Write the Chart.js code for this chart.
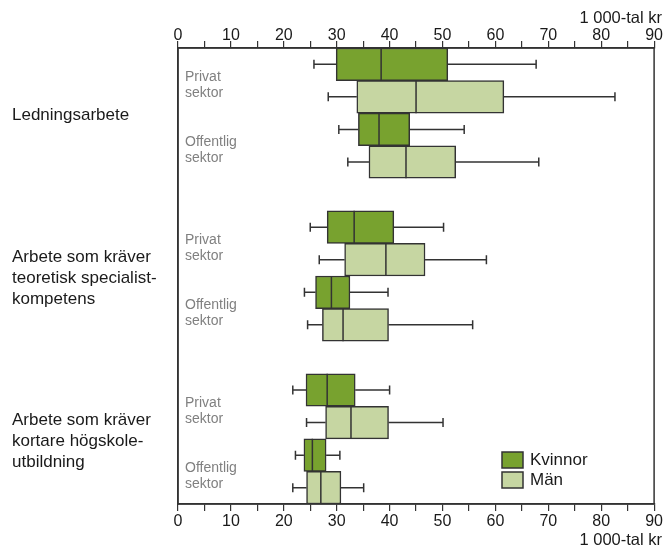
<!DOCTYPE html>
<html>
<head>
<meta charset="utf-8">
<script src="https://cdn.jsdelivr.net/npm/chart.js@4/dist/chart.umd.min.js"></script>
<style>
  html, body { margin: 0; padding: 0; background: #ffffff; }
  #wrap { width: 664px; height: 546px; position: relative; }
</style>
</head>
<body>
<div id="wrap"><canvas id="c" width="664" height="546"></canvas></div>
<script>
// ---- Data, values in 1 000-tal kr ----
const groups = [
  ['Ledningsarbete'],
  ['Arbete som kräver', 'teoretisk specialist-', 'kompetens'],
  ['Arbete som kräver', 'kortare högskole-', 'utbildning']
];
const sectors = [['Privat', 'sektor'], ['Offentlig', 'sektor']];
const seriesNames = ['Kvinnor', 'Män'];
const xTicks = [0, 10, 20, 30, 40, 50, 60, 70, 80, 90];
const unitLabel = '1 000-tal kr';

// order: Ledning-Privat, Ledning-Offentlig, Spec-Privat, Spec-Offentlig, Kort-Privat, Kort-Offentlig
const kvinnorMin    = [25.7, 30.4, 25.0, 23.9, 21.7, 22.2];
const kvinnorQ1     = [29.9, 34.1, 28.2, 26.0, 24.2, 23.8];
const kvinnorMedian = [38.4, 38.0, 33.3, 29.0, 28.2, 25.4];
const kvinnorQ3     = [51.0, 43.8, 40.8, 32.5, 33.5, 28.0];
const kvinnorMax    = [67.7, 54.1, 50.2, 39.7, 40.0, 30.6];

const manMin    = [28.4, 32.1, 26.7, 24.5, 24.3, 21.7];
const manQ1     = [33.8, 36.1, 31.5, 27.3, 27.9, 24.3];
const manMedian = [45.0, 43.1, 39.3, 31.2, 32.7, 27.0];
const manQ3     = [61.6, 52.5, 46.7, 39.8, 39.8, 30.8];
const manMax    = [82.6, 68.2, 58.3, 55.7, 50.1, 35.1];

// ---- Build row slots: per group 4 rows + 1 gap row ----
const rowLabels = [];
const kvData = [], mnData = [];
const kvStats = [], mnStats = [];
groups.forEach((g, gi) => {
  sectors.forEach((s, si) => {
    const k = gi * 2 + si;
    rowLabels.push(g.join(' ') + ' – ' + s.join(' ') + ' – ' + seriesNames[0]);
    kvData.push([kvinnorQ1[k], kvinnorQ3[k]]); mnData.push(null);
    kvStats.push({min: kvinnorMin[k], med: kvinnorMedian[k], max: kvinnorMax[k]}); mnStats.push(null);
    rowLabels.push(g.join(' ') + ' – ' + s.join(' ') + ' – ' + seriesNames[1]);
    kvData.push(null); mnData.push([manQ1[k], manQ3[k]]);
    kvStats.push(null); mnStats.push({min: manMin[k], med: manMedian[k], max: manMax[k]});
  });
  if (gi < groups.length - 1) {
    rowLabels.push('');
    kvData.push(null); mnData.push(null); kvStats.push(null); mnStats.push(null);
  }
});

const DARK = '#78a22f';
const LIGHT = '#c6d6a2';
const LINE = '#333333';
const FONT = "'Liberation Sans', Arial, Helvetica, sans-serif";

const boxPlugin = {
  id: 'boxExtras',
  afterDatasetsDraw(chart) {
    const ctx = chart.ctx;
    const xs = chart.scales.x;
    const statsList = [kvStats, mnStats];
    ctx.save();
    ctx.strokeStyle = LINE;
    ctx.lineWidth = 1.5;
    statsList.forEach((stats, di) => {
      const meta = chart.getDatasetMeta(di);
      meta.data.forEach((el, i) => {
        const st = stats[i];
        const d = chart.data.datasets[di].data[i];
        if (!st || !d) return;
        const props = el.getProps(['y', 'height'], true);
        const yc = props.y, h = props.height;
        const top = yc - h / 2, bot = yc + h / 2;
        const pMin = xs.getPixelForValue(st.min);
        const pQ1 = xs.getPixelForValue(d[0]);
        const pQ3 = xs.getPixelForValue(d[1]);
        const pMax = xs.getPixelForValue(st.max);
        const pMed = xs.getPixelForValue(st.med);
        const cap = 4.5;
        ctx.beginPath();
        ctx.moveTo(pMin, yc); ctx.lineTo(pQ1, yc);
        ctx.moveTo(pQ3, yc); ctx.lineTo(pMax, yc);
        ctx.moveTo(pMin, yc - cap); ctx.lineTo(pMin, yc + cap);
        ctx.moveTo(pMax, yc - cap); ctx.lineTo(pMax, yc + cap);
        ctx.moveTo(pMed, top); ctx.lineTo(pMed, bot);
        ctx.stroke();
      });
    });
    // plot frame
    const a = chart.chartArea;
    ctx.lineWidth = 1.5;
    ctx.strokeRect(a.left, a.top, a.right - a.left, a.bottom - a.top);

    // left group labels
    const ys = chart.scales.y;
    ctx.fillStyle = '#1a1a1a';
    ctx.font = '17px ' + FONT;
    ctx.textAlign = 'left';
    ctx.textBaseline = 'middle';
    const lh = 20.8;
    groups.forEach((g, gi) => {
      const c = (ys.getPixelForValue(gi * 5 + 1) + ys.getPixelForValue(gi * 5 + 2)) / 2;
      const y0 = c - (g.length - 1) * lh / 2 + 2.5;
      g.forEach((t, li) => ctx.fillText(t, 12, y0 + li * lh));
    });
    // sector labels inside the plot
    ctx.fillStyle = '#808080';
    ctx.font = '14px ' + FONT;
    groups.forEach((g, gi) => {
      sectors.forEach((s, si) => {
        const r = gi * 5 + si * 2;
        const c = (ys.getPixelForValue(r) + ys.getPixelForValue(r + 1)) / 2 + 4.5;
        ctx.fillText(s[0], a.left + 7, c - 8);
        ctx.fillText(s[1], a.left + 7, c + 8);
      });
    });
    // unit labels
    ctx.fillStyle = '#1a1a1a';
    ctx.font = '16.5px ' + FONT;
    ctx.textAlign = 'right';
    ctx.textBaseline = 'alphabetic';
    ctx.fillText(unitLabel, 662, 23);
    ctx.fillText(unitLabel, 662, 545);

    // legend
    ctx.textAlign = 'left';
    ctx.textBaseline = 'middle';
    ctx.font = '17px ' + FONT;
    chart.data.datasets.forEach((ds, i) => {
      const bx = 502, by = 452 + i * 20;
      ctx.fillStyle = ds.backgroundColor;
      ctx.fillRect(bx, by, 21, 16);
      ctx.lineWidth = 1.5;
      ctx.strokeStyle = LINE;
      ctx.strokeRect(bx, by, 21, 16);
      ctx.fillStyle = '#1a1a1a';
      ctx.fillText(ds.label, 530, by + 8.5);
    });
    ctx.restore();
  }
};

const tickOpts = {
  stepSize: 5,
  autoSkip: false,
  maxRotation: 0,
  color: '#1a1a1a',
  font: { family: FONT, size: 16 },
  callback: (v) => (xTicks.includes(v) ? String(v) : '')
};

new Chart(document.getElementById('c'), {
  type: 'bar',
  data: {
    labels: rowLabels,
    datasets: [
      { label: seriesNames[0], data: kvData, backgroundColor: DARK, borderColor: LINE, borderWidth: 1.5,
        borderSkipped: false, grouped: false, barPercentage: 1, categoryPercentage: 1 },
      { label: seriesNames[1], data: mnData, backgroundColor: LIGHT, borderColor: LINE, borderWidth: 1.5,
        borderSkipped: false, grouped: false, barPercentage: 1, categoryPercentage: 1 }
    ]
  },
  options: {
    indexAxis: 'y',
    responsive: false,
    animation: false,
    layout: { padding: { left: 0, right: 9, top: 0, bottom: 0 } },
    plugins: { legend: { display: false }, tooltip: { enabled: false }, title: { display: false } },
    scales: {
      x: {
        type: 'linear', position: 'bottom', min: 0, max: 90,
        ticks: Object.assign({ padding: 1 }, tickOpts),
        grid: { drawOnChartArea: false, drawTicks: true, tickLength: 7, color: LINE, lineWidth: 1.2 },
        border: { display: true, color: LINE, width: 1.5 },
        afterFit: (s) => { s.height = 42; }
      },
      x2: {
        type: 'linear', position: 'top', min: 0, max: 90,
        ticks: Object.assign({ padding: -4 }, tickOpts),
        grid: { drawOnChartArea: false, drawTicks: true, tickLength: 7, color: LINE, lineWidth: 1.2 },
        border: { display: true, color: LINE, width: 1.5 },
        afterFit: (s) => { s.height = 48; }
      },
      y: {
        type: 'category',
        offset: true,
        ticks: { display: false },
        grid: { display: false, drawTicks: false },
        border: { display: true, color: LINE, width: 1.5 },
        afterFit: (s) => { s.width = 178; }
      }
    }
  },
  plugins: [boxPlugin]
});
</script>
</body>
</html>
